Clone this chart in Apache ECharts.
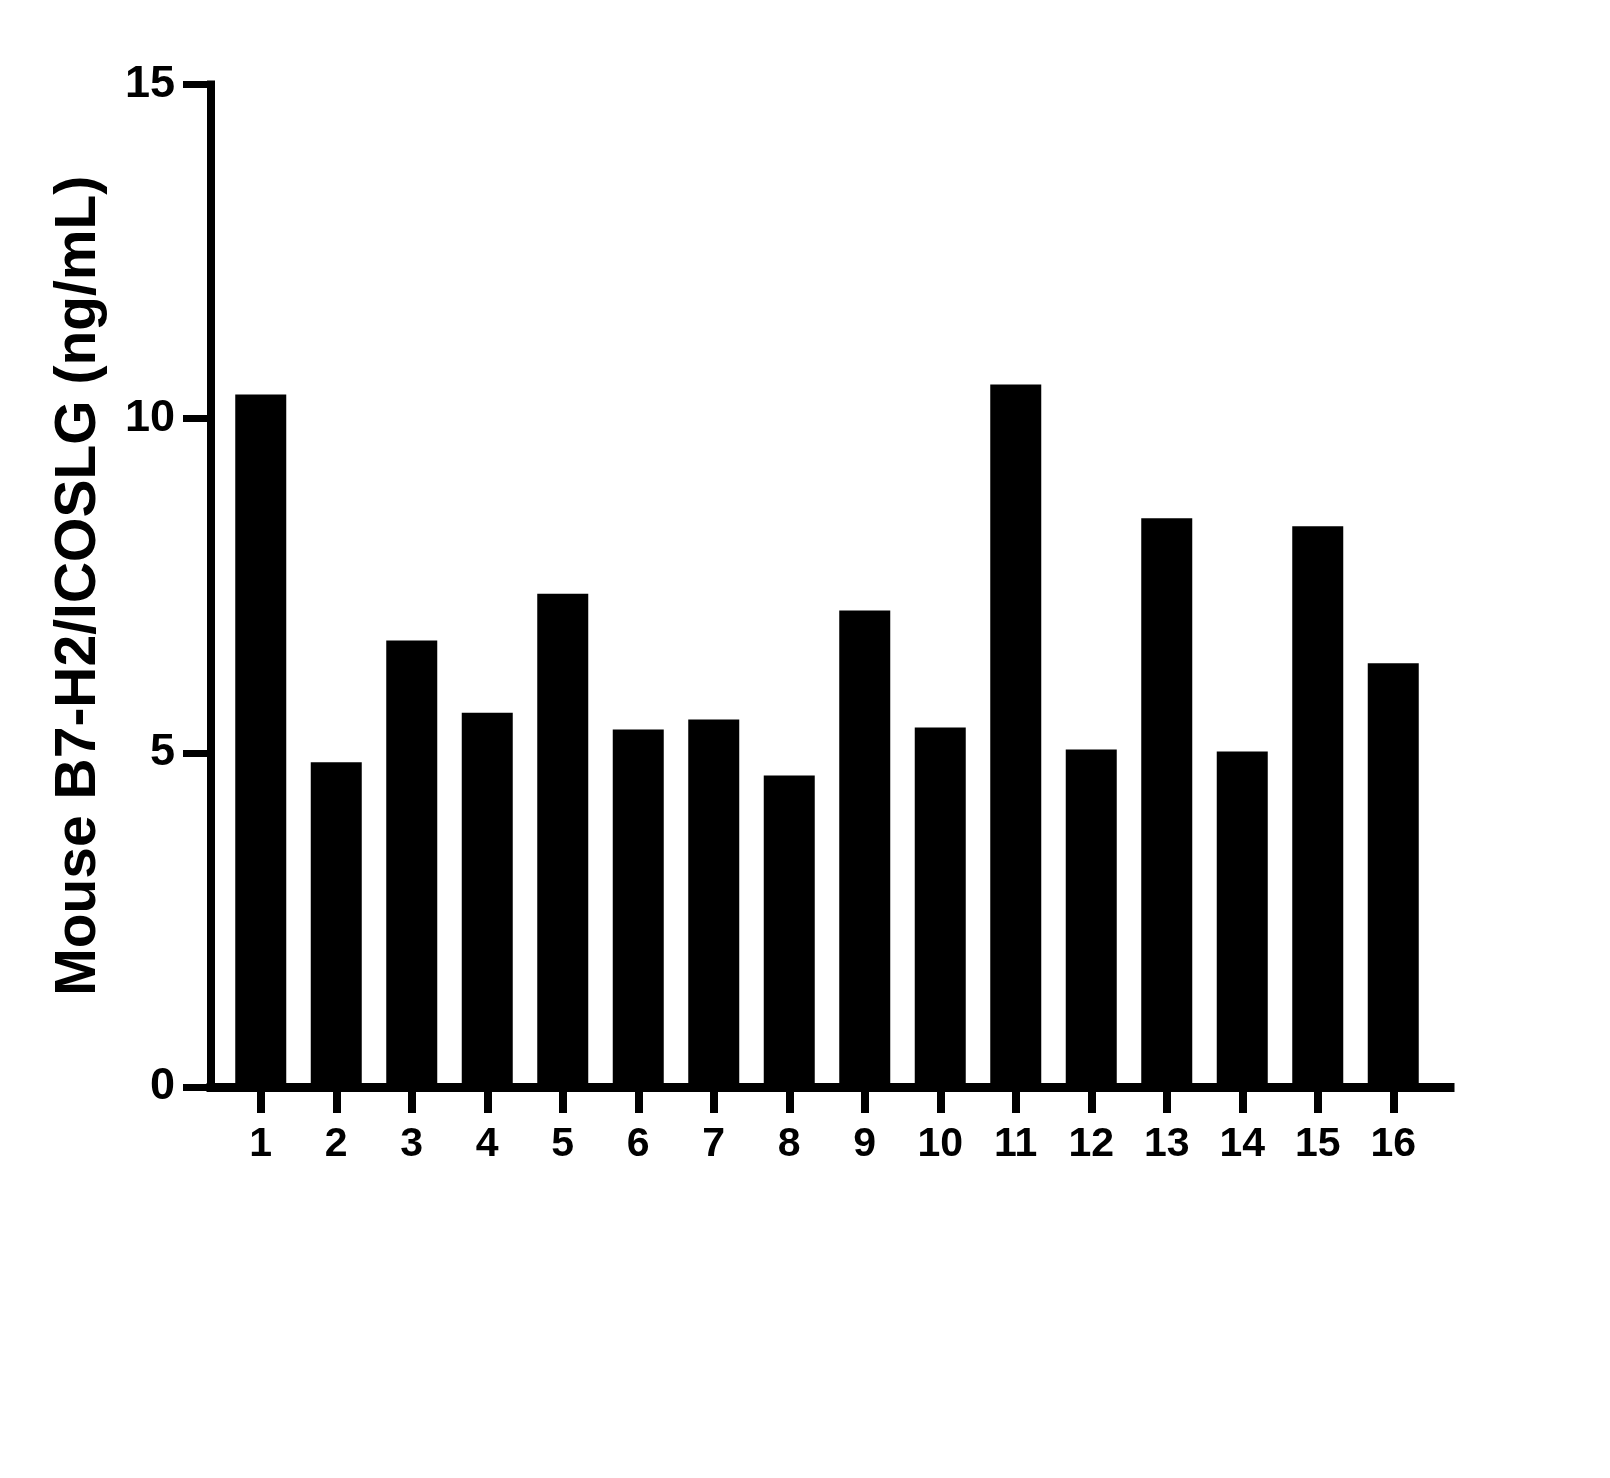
<!DOCTYPE html>
<html>
<head>
<meta charset="utf-8">
<script src="https://cdn.jsdelivr.net/npm/echarts@6/dist/echarts.min.js"></script>
<style type="text/css">
body{ margin:0; background:#fff; }
#main{ width:1610px; height:1478px; }
</style>
</head>
<body>
<div id="main"></div>
<script type="text/javascript">
// 样本编号与浓度
var categories = ['1','2','3','4','5','6','7','8','9','10','11','12','13','14','15','16'];
var values = [10.36, 4.86, 6.68, 5.60, 7.38, 5.35, 5.50, 4.66, 7.13, 5.38, 10.51, 5.05, 8.51, 5.02, 8.39, 6.34];
var yTicks = [0, 5, 15];
var yTitle = 'Mouse B7-H2/ICOSLG (ng/mL)';

var font = 'Liberation Sans, Arial, sans-serif';

var myChart = echarts.init(document.getElementById('main'));

var option = {
    backgroundColor: '#fff',
    animation: false,
    grid: [
        // 柱子所在区域
        { left: 223, right: 179, top: 84.5, bottom: 391 },
        // 坐标轴线区域
        { left: 211, right: 160, top: 84.5, bottom: 391 }
    ],
    xAxis: [
        {
            type: 'category',
            gridIndex: 0,
            data: categories,
            axisLine: { show: false },
            axisTick: { show: true, alignWithLabel: true, length: 26, lineStyle: { color: '#000', width: 8 } },
            axisLabel: { color: '#000', fontSize: 41, fontWeight: 'bold', fontFamily: font, margin: 37 },
            splitLine: { show: false }
        },
        {
            type: 'value',
            gridIndex: 1,
            min: 0,
            max: 1,
            axisLine: { show: true, lineStyle: { color: '#000', width: 9, cap: 'square' } },
            axisTick: { show: false },
            axisLabel: { show: false },
            splitLine: { show: false }
        }
    ],
    yAxis: [
        {
            type: 'value',
            gridIndex: 0,
            min: 0,
            max: 15,
            show: false
        },
        {
            type: 'value',
            gridIndex: 1,
            min: yTicks[0],
            max: yTicks[2],
            interval: yTicks[1],
            name: yTitle,
            nameLocation: 'middle',
            nameGap: 103,
            nameTextStyle: { color: '#000', fontSize: 57, fontWeight: 'bold', fontFamily: font },
            axisLine: { show: true, lineStyle: { color: '#000', width: 8, cap: 'square' } },
            axisTick: { show: true, length: 28, lineStyle: { color: '#000', width: 7 } },
            axisLabel: { color: '#000', fontSize: 45, fontWeight: 'bold', fontFamily: font, margin: 36 },
            splitLine: { show: false }
        }
    ],
    series: [
        {
            type: 'bar',
            xAxisIndex: 0,
            yAxisIndex: 0,
            data: values,
            barWidth: 51,
            itemStyle: { color: '#000' }
        }
    ]
};

myChart.setOption(option);
</script>
</body>
</html>
